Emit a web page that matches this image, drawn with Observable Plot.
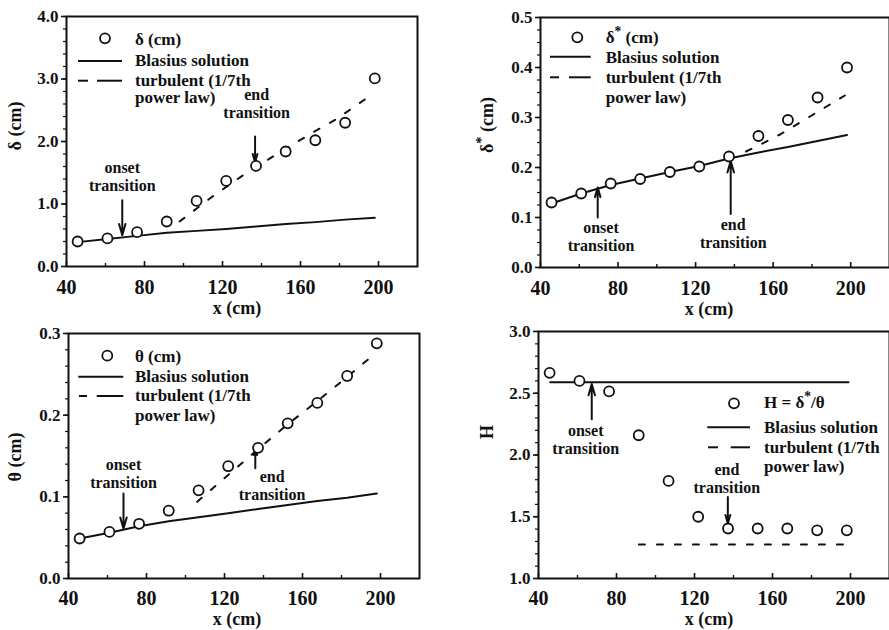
<!DOCTYPE html>
<html><head><meta charset="utf-8">
<script src="https://cdn.jsdelivr.net/npm/d3@7"></script>
<script src="https://cdn.jsdelivr.net/npm/@observablehq/plot@0.6"></script>
<style>
body{margin:0;background:#fff;}
#root{position:relative;width:889px;height:630px;overflow:hidden;background:#fff;}
.panel{position:absolute;}
.panel svg{overflow:visible;}
</style></head><body><div id="root"></div>
<script>
// ---- data ----
const xStations = [45.7, 61.0, 76.2, 91.4, 106.7, 121.9, 137.2, 152.4, 167.6, 182.9, 198.1];
const xTickLabels = [40, 80, 120, 160, 200];
const xMinorTicks = [60, 100, 140, 180];

// delta (boundary-layer thickness)
const deltaMeas    = [0.40, 0.45, 0.55, 0.72, 1.05, 1.37, 1.61, 1.84, 2.02, 2.30, 3.01];
const deltaBlasius = [0.39, 0.44, 0.49, 0.54, 0.57, 0.60, 0.64, 0.68, 0.71, 0.75, 0.78];
const deltaTurbX   = [98, 114, 131, 148, 165, 179, 197];
const deltaTurb    = [0.72, 1.10, 1.47, 1.80, 2.12, 2.37, 2.76];
const deltaTicks   = [0, 1, 2, 3, 4];

// delta* (displacement thickness)
const dstarMeas    = [0.130, 0.148, 0.168, 0.177, 0.191, 0.202, 0.222, 0.263, 0.295, 0.340, 0.400];
const dstarBlasius = [0.128, 0.148, 0.165, 0.178, 0.191, 0.203, 0.218, 0.230, 0.241, 0.253, 0.265];
const dstarTurbX   = [146, 154, 164, 179, 188, 197];
const dstarTurb    = [0.232, 0.247, 0.267, 0.302, 0.323, 0.344];
const dstarTicks   = [0, 0.1, 0.2, 0.3, 0.4, 0.5];

// theta (momentum thickness)
const thetaMeas    = [0.049, 0.057, 0.067, 0.083, 0.108, 0.1375, 0.160, 0.190, 0.215, 0.248, 0.288];
const thetaBlasius = [0.049, 0.056, 0.064, 0.070, 0.075, 0.080, 0.085, 0.090, 0.095, 0.099, 0.104];
const thetaTurbX   = [106, 122, 137, 152, 168, 183, 197];
const thetaTurb    = [0.094, 0.127, 0.158, 0.188, 0.218, 0.247, 0.275];
const thetaTicks   = [0, 0.1, 0.2, 0.3];

// H (shape factor)
const hMeas        = [2.665, 2.60, 2.515, 2.16, 1.79, 1.50, 1.405, 1.405, 1.405, 1.39, 1.39];
const hBlasiusX    = [46, 199];
const hBlasius     = [2.59, 2.59];
const hTurbX       = [91.5, 199];
const hTurb        = [1.275, 1.275];
const hTicks       = [1.0, 1.5, 2.0, 2.5, 3.0];

// annotations (arrow x, arrow tail/tip, label position) in data units
const deltaNotes = [
  {label: "onset\ntransition", tx: 68.6, ty: 1.216, ax: 68.6, ay1: 1.06, ay2: 0.50},
  {label: "end\ntransition",   tx: 137.5, ty: 2.38, ax: 136.7, ay1: 2.08, ay2: 1.67}
];
const dstarNotes = [
  {label: "onset\ntransition", tx: 71.2, ty: 0.033, ax: 69.5, ay1: 0.100, ay2: 0.160},
  {label: "end\ntransition",   tx: 139.4, ty: 0.040, ax: 138.1, ay1: 0.107, ay2: 0.213}
];
const thetaNotes = [
  {label: "onset\ntransition", tx: 68.2, ty: 0.111, ax: 68.2, ay1: 0.104, ay2: 0.061},
  {label: "end\ntransition",   tx: 144.4, ty: 0.0959, ax: 135.8, ay1: 0.135, ay2: 0.159}
];
const hNotes = [
  {label: "onset\ntransition", tx: 64.2, ty: 2.010, ax: 67.3, ay1: 2.29, ay2: 2.575},
  {label: "end\ntransition",   tx: 136.6, ty: 1.695, ax: 137.1, ay1: 1.66, ay2: 1.445}
];

const legendRows = ["Blasius solution", "turbulent (1/7th", "power law)"];

// ---- drawing ----
const INK = "#111";
const FONT = "'Liberation Serif', 'Times New Roman', Times, serif";

function rows(xs, vs) { return xs.map((x, i) => ({x, v: vs[i]})); }

function appendRich(sel, parts) {
  parts.forEach(p => {
    if (p.sup) sel.append("tspan").attr("dy", -7).attr("font-size", "0.8em").text(p.t);
    else if (p.after) sel.append("tspan").attr("dy", 7).text(p.t);
    else sel.append("tspan").text(p.t);
  });
}

function buildPanel(p) {
  const chart = Plot.plot({
    width: p.width, height: 315,
    marginTop: p.mt, marginRight: p.mr, marginBottom: p.mb, marginLeft: p.ml,
    style: {fontFamily: FONT, color: INK, background: "transparent", overflow: "visible"},
    x: {domain: [40, 220], label: null},
    y: {domain: p.yDomain, label: null},
    marks: [
      Plot.axisX({ticks: xTickLabels, tickSize: 0, tickPadding: p.xPad, fontSize: 20, fontWeight: "bold", fontFamily: FONT, label: null}),
      Plot.axisX({ticks: xTickLabels, tickSize: -5, tickFormat: () => "", label: null, strokeWidth: 1.6}),
      Plot.axisX({ticks: xMinorTicks, tickSize: -3, tickFormat: () => "", label: null, strokeWidth: 1.4}),
      Plot.axisY({ticks: p.yTicks, tickSize: 0, tickPadding: 8, tickFormat: d3.format(".1f"), fontSize: 17, fontWeight: "bold", fontFamily: FONT, label: null}),
      Plot.axisY({ticks: p.yTicks, tickSize: 5, tickFormat: () => "", label: null, strokeWidth: 1.6}),
      Plot.axisY({ticks: p.yMinor, tickSize: 3, tickFormat: () => "", label: null, strokeWidth: 1.2}),
      Plot.line(p.blas, {x: "x", y: "v", stroke: INK, strokeWidth: 2}),
      Plot.line(p.turb, {x: "x", y: "v", stroke: INK, strokeWidth: 2, strokeDasharray: "6,12"}),
      Plot.arrow(p.notes, {x1: "ax", y1: "ay1", x2: "ax", y2: "ay2", stroke: INK, strokeWidth: 2, headLength: 9, headAngle: 32}),
      Plot.text(p.notes, {x: "tx", y: "ty", text: "label", lineAnchor: "bottom", lineHeight: 1.12, fontSize: 16, fontWeight: "bold", fontFamily: FONT, fill: INK}),
      Plot.dot(p.meas, {x: "x", y: "v", r: 5, stroke: INK, strokeWidth: 1.8, fill: "white"}),
      Plot.frame({stroke: INK, strokeWidth: 2})
    ]
  });
  const svg = d3.select(chart);
  const L = p.legend;
  const g = svg.append("g").attr("font-family", FONT).attr("font-weight", "bold").attr("font-size", 17)
    .attr("fill", INK).attr("text-anchor", "start");
  g.append("circle").attr("cx", L.cx).attr("cy", L.cy).attr("r", 5).attr("fill", "white").attr("stroke", INK).attr("stroke-width", 1.8);
  appendRich(g.append("text").attr("x", L.tx).attr("y", L.base[0]), p.seriesLabel);
  legendRows.forEach((t, i) => g.append("text").attr("x", L.tx).attr("y", L.base[i + 1]).text(t));
  g.append("line").attr("x1", L.solid[0]).attr("x2", L.solid[1]).attr("y1", L.solid[2]).attr("y2", L.solid[2]).attr("stroke", INK).attr("stroke-width", 2);
  g.append("line").attr("x1", L.dash[0]).attr("x2", L.dash[1]).attr("y1", L.dash[4]).attr("y2", L.dash[4]).attr("stroke", INK).attr("stroke-width", 2);
  g.append("line").attr("x1", L.dash[2]).attr("x2", L.dash[3]).attr("y1", L.dash[4]).attr("y2", L.dash[4]).attr("stroke", INK).attr("stroke-width", 2);
  // axis titles
  const yt = svg.append("text").attr("font-family", FONT).attr("font-weight", "bold").attr("font-size", 18).attr("fill", INK)
    .attr("text-anchor", "middle").attr("transform", `translate(${p.yTitle[0]},${p.yTitle[1]}) rotate(-90)`);
  appendRich(yt, p.yLabel);
  svg.append("text").attr("font-family", FONT).attr("font-weight", "bold").attr("font-size", 18).attr("fill", INK)
    .attr("text-anchor", "middle").attr("x", p.xTitle[0]).attr("y", p.xTitle[1]).text("x (cm)");

  const div = document.createElement("div");
  div.className = "panel";
  div.style.left = p.left + "px";
  div.style.top = p.top + "px";
  div.appendChild(chart);
  document.getElementById("root").appendChild(div);
}

buildPanel({
  left: 0, top: 0, width: 444, mt: 16, mr: 27, mb: 49, ml: 66, xPad: 13,
  yDomain: [0, 4], yTicks: deltaTicks, yMinor: d3.range(0, 4.001, 0.2),
  meas: rows(xStations, deltaMeas), blas: rows(xStations, deltaBlasius), turb: rows(deltaTurbX, deltaTurb),
  notes: deltaNotes,
  seriesLabel: [{t: "δ (cm)"}],
  yLabel: [{t: "δ (cm)"}], yTitle: [21, 126], xTitle: [237, 314],
  legend: {cx: 105, cy: 38.3, tx: 135, base: [44.5, 65.5, 85.5, 103], solid: [78, 122, 61], dash: [78, 88, 97, 122, 80.7]}
});
buildPanel({
  left: 444, top: 0, width: 445, mt: 17, mr: 0, mb: 48, ml: 96, xPad: 13,
  yDomain: [0, 0.5], yTicks: dstarTicks, yMinor: d3.range(0, 0.5001, 0.025),
  meas: rows(xStations, dstarMeas), blas: rows(xStations, dstarBlasius), turb: rows(dstarTurbX, dstarTurb),
  notes: dstarNotes,
  seriesLabel: [{t: "δ"}, {t: "*", sup: true}, {t: " (cm)", after: true}],
  yLabel: [{t: "δ"}, {t: "*", sup: true}, {t: " (cm)", after: true}], yTitle: [49, 125], xTitle: [265, 315],
  legend: {cx: 133.3, cy: 37.3, tx: 161.7, base: [43, 63, 83, 102.7], solid: [106, 146.7, 56.7], dash: [106, 115, 125, 146.7, 77.3]}
});
buildPanel({
  left: 0, top: 315, width: 444, mt: 18, mr: 25, mb: 52, ml: 68, xPad: 12,
  yDomain: [0, 0.3], yTicks: thetaTicks, yMinor: d3.range(0, 0.3001, 0.02),
  meas: rows(xStations, thetaMeas), blas: rows(xStations, thetaBlasius), turb: rows(thetaTurbX, thetaTurb),
  notes: thetaNotes,
  seriesLabel: [{t: "θ (cm)"}],
  yLabel: [{t: "θ (cm)"}], yTitle: [21, 142], xTitle: [237, 310],
  legend: {cx: 107.3, cy: 40.7, tx: 135, base: [46.7, 66.7, 86, 106], solid: [78.3, 123.3, 61.7], dash: [79, 87, 96.7, 123.3, 81]}
});
buildPanel({
  left: 444, top: 315, width: 445, mt: 16, mr: 0, mb: 52, ml: 94, xPad: 12,
  yDomain: [1, 3], yTicks: hTicks, yMinor: d3.range(1, 3.001, 0.1),
  meas: rows(xStations, hMeas), blas: rows(hBlasiusX, hBlasius), turb: rows(hTurbX, hTurb),
  notes: hNotes,
  seriesLabel: [{t: "H = δ"}, {t: "*", sup: true}, {t: "/θ", after: true}],
  yLabel: [{t: "H"}], yTitle: [49, 117], xTitle: [265, 310],
  legend: {cx: 290, cy: 88.3, tx: 320, base: [93.3, 118.3, 138.3, 156.7], solid: [263.3, 306, 112.3], dash: [264, 274, 286.7, 306, 132.3]}
});
</script>
</body></html>
